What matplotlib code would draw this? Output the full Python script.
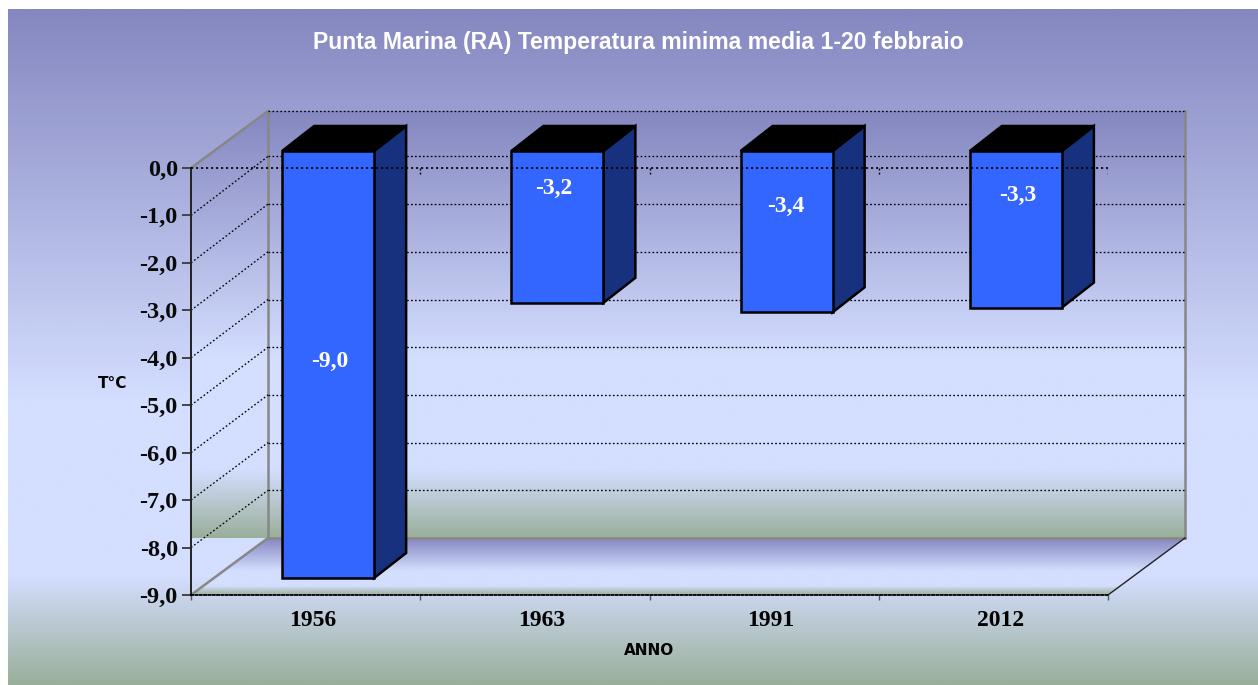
import numpy as np
import matplotlib
matplotlib.use("Agg")
import matplotlib.pyplot as plt
from matplotlib.colors import LinearSegmentedColormap
from matplotlib.patches import Polygon
from matplotlib.transforms import ScaledTranslation

# ---- data ----
years = ["1956", "1963", "1991", "2012"]
values = [-9.0, -3.2, -3.4, -3.3]
value_labels = ["-9,0", "-3,2", "-3,4", "-3,3"]
y_ticks = [0, -1, -2, -3, -4, -5, -6, -7, -8, -9]
y_tick_labels = ["0,0", "-1,0", "-2,0", "-3,0", "-4,0", "-5,0", "-6,0", "-7,0", "-8,0", "-9,0"]
title = "Punta Marina (RA) Temperatura minima media 1-20 febbraio"

# ---- layout (pixels) ----
W, H = 1258, 685
L, R, T, B = 191, 1108, 168, 595
WALL_DX, WALL_DY = 77, 57
GRID_STEP_PX = 47.7
BAR_DX0, BAR_DY0 = 22.5, 17
BAR_DX1, BAR_DY1 = 54.5, 42
BAR_W_PX = 92
label_y_px = [361, 188, 206, 195]
label_x_px = [330, 554, 786, 1018]

SERIF = "Liberation Serif"
grad = LinearSegmentedColormap.from_list("g", [
    (0.00, "#8587C0"), (0.58, "#D4DEFF"), (0.84, "#D4DEFF"), (1.00, "#9AAF9A")])
ramp = np.linspace(0, 1, 512).reshape(-1, 1)

fig = plt.figure(figsize=(W / 100, H / 100), dpi=100, facecolor="white")

# background panels in pixel coordinates
bg = fig.add_axes([0, 0, 1, 1], zorder=0)
bg.set_xlim(0, W); bg.set_ylim(H, 0); bg.axis("off")

def panel(x0, x1, y0, y1, poly=None):
    im = bg.imshow(ramp, cmap=grad, vmin=0, vmax=1, aspect="auto",
                   extent=(x0, x1, y1, y0), interpolation="bilinear", zorder=1)
    if poly is not None:
        p = Polygon(poly, closed=True, transform=bg.transData, fc="none", ec="none")
        bg.add_patch(p)
        im.set_clip_path(p)
    return im

panel(8, W, 9, H)
bx0, bx1, by0, by1 = L + WALL_DX, R + WALL_DX, T - WALL_DY, B - WALL_DY
panel(bx0, bx1, by0, by1)
panel(L, bx0, by0, by1, [(L, T), (bx0, by0), (bx0, by1), (L, by1)])
panel(L, bx1, by1, B, [(L, B), (bx0, by1), (bx1, by1), (R, B)])
bg.set_xlim(0, W); bg.set_ylim(H, 0)

GRAY = "#878787"
for xs, ys in [([L, bx0], [T, by0]), ([bx0, bx0], [by0, by1]), ([bx0, L], [by1, B]),
               ([bx1, bx1], [by0, by1]), ([bx0, bx1], [by1, by1])]:
    bg.plot(xs, ys, color=GRAY, lw=1.8, zorder=3, solid_capstyle="projecting")
bg.plot([R, bx1], [B, by1], color="#222222", lw=1.0, zorder=3)

# main axes: categories across, values up
ax = fig.add_axes([L / W, 1 - B / H, (R - L) / W, (B - T) / H], zorder=2)
ax.patch.set_alpha(0)
ax.set_xlim(0, len(years)); ax.set_ylim(y_ticks[-1], y_ticks[0])
px_x = len(years) / (R - L)
px_y = (y_ticks[0] - y_ticks[-1]) / (B - T)

def back_y(v):
    """Height on the back wall, in value units, of the gridline for value v."""
    if v == y_ticks[0]:
        return WALL_DY * px_y
    return y_ticks[-1] + WALL_DY * px_y + (v - y_ticks[-1]) * GRID_STEP_PX * px_y

# grid on the side wall and back wall
dotted = dict(color="black", lw=0.95, ls=(0, (1.3, 1.7)), clip_on=False)
for v in y_ticks[:-1]:
    if v != 0:
        ax.plot([0, WALL_DX * px_x], [v, back_y(v)], zorder=1, **dotted)
    ax.plot([WALL_DX * px_x, len(years) + WALL_DX * px_x], [back_y(v)] * 2, zorder=1, **dotted)

# bars
centers = np.arange(len(years)) + 0.5
bw = BAR_W_PX * px_x
for c, v in zip(centers, values):
    x0 = c + BAR_DX0 * px_x - bw / 2
    x1 = x0 + bw
    ytop = BAR_DY0 * px_y
    ybot = v + BAR_DY0 * px_y
    ddx = (BAR_DX1 - BAR_DX0) * px_x
    ddy = (BAR_DY1 - BAR_DY0) * px_y
    edge = dict(ec="black", lw=1.8, joinstyle="miter", clip_on=False, zorder=3)
    ax.add_patch(Polygon([(x1, ytop), (x1 + ddx, ytop + ddy), (x1 + ddx, ybot + ddy), (x1, ybot)],
                         closed=True, fc="#17317F", **edge))
    ax.add_patch(Polygon([(x0, ytop), (x0 + ddx, ytop + ddy), (x1 + ddx, ytop + ddy), (x1, ytop)],
                         closed=True, fc="black", **edge))
    ax.bar(x0 + bw / 2, v, width=bw, bottom=ytop, color="#3366FF", edgecolor="black",
           linewidth=1.8, clip_on=False, zorder=4)

# zero line and its small ticks, over the bars
ax.plot([0, len(years)], [0, 0], zorder=5, **dict(dotted, lw=1.2))
ax.vlines(np.arange(1, len(years) + 1), 0, -6 * px_y, color="black", lw=1.0,
          ls=(0, (1.5, 1.5)), zorder=5)

# value labels
for s, xp, yp in zip(value_labels, label_x_px, label_y_px):
    ax.text((xp - L) * px_x, -(yp - T) * px_y, s, color="white", family=SERIF,
            weight="bold", size=17, ha="center", va="center", zorder=6)

# axes furniture
for side in ("top", "right"):
    ax.spines[side].set_visible(False)
ax.spines["left"].set_color("#222222"); ax.spines["left"].set_linewidth(1.4)
ax.spines["bottom"].set_linestyle((0, (1.2, 1.2))); ax.spines["bottom"].set_linewidth(1.3)
ax.spines["bottom"].set_color("black")

ax.set_yticks(y_ticks, y_tick_labels, family=SERIF, weight="bold", size=17.5, color="#0a0a0a")
ax.tick_params(axis="y", length=6.5, width=1.4, color="#444444", pad=3)
ax.set_xticks(np.arange(len(years) + 1), [""] * (len(years) + 1))
ax.tick_params(axis="x", which="major", length=3.5, width=1.0, color="#555555")
ax.set_xticks(centers, years, minor=True, family=SERIF, weight="bold", size=17, color="black")
ax.tick_params(axis="x", which="minor", length=0, pad=11)
shift = ScaledTranslation(7 / 100, 0, fig.dpi_scale_trans)
for t in ax.xaxis.get_minorticklabels():
    t.set_transform(t.get_transform() + shift)

ax.set_xlabel("ANNO", family="DejaVu Sans", weight="bold", size=11, labelpad=0)
ax.xaxis.set_label_coords((649 - L) / (R - L), -(650.5 - B) / (B - T), transform=ax.transAxes)
ax.xaxis.label.set_va("center")
ax.set_ylabel("T°C", family="DejaVu Sans", weight="bold", size=11, rotation=0)
ax.yaxis.set_label_coords((113 - L) / (R - L), 1 - (384 - T) / (B - T), transform=ax.transAxes)
ax.yaxis.label.set_va("center"); ax.yaxis.label.set_ha("center")

fig.text(638 / W, 1 - 42 / H, title, family="Liberation Sans", weight="bold", size=16.55,
         color="white", ha="center", va="center", zorder=10)

fig.savefig("out.png", dpi=100, facecolor="white")
